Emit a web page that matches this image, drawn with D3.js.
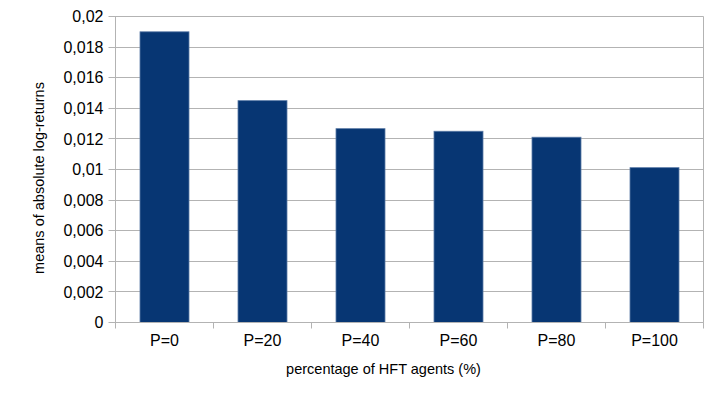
<!DOCTYPE html>
<html><head><meta charset="utf-8">
<script src="https://cdn.jsdelivr.net/npm/d3@7"></script>
<style>body{margin:0;background:#fff}svg{display:block}text{font-family:"Liberation Sans",Arial,sans-serif;fill:#000}</style>
</head><body><svg id="c" width="712" height="400"></svg>
<script>
const categories = ["P=0","P=20","P=40","P=60","P=80","P=100"];
const values = [0.0190, 0.0145, 0.01267, 0.0125, 0.01211, 0.01012];
const yTicks = [0,0.002,0.004,0.006,0.008,0.01,0.012,0.014,0.016,0.018,0.02];
const yTickLabels = ["0","0,002","0,004","0,006","0,008","0,01","0,012","0,014","0,016","0,018","0,02"];
const xTitle = "percentage of HFT agents (%)";
const yTitle = "means of absolute log-returns";

const svg = d3.select("#c");
const L=115.5, R=703.5, T=16.5, B=322.5;
const x = d3.scaleBand().domain(categories).range([L,R]).paddingInner(0.5).paddingOuter(0.25);
const y = d3.scaleLinear().domain([0,0.02]).range([B,T]);

// gridlines
svg.append("g").selectAll("line").data(yTicks).join("line")
  .attr("x1",L-7).attr("x2",R).attr("y1",d=>Math.round(y(d)-0.5)+0.5).attr("y2",d=>Math.round(y(d)-0.5)+0.5)
  .attr("stroke","#b3b3b3").attr("stroke-width",1);
// right border
svg.append("line").attr("x1",R).attr("x2",R).attr("y1",T).attr("y2",B).attr("stroke","#b3b3b3");

// bars
svg.append("g").selectAll("rect").data(values).join("rect")
  .attr("x",(d,i)=>x(categories[i])).attr("width",x.bandwidth())
  .attr("y",d=>y(d)).attr("height",d=>B-y(d))
  .attr("fill","#073673").attr("stroke","#5a7aa6").attr("stroke-width",0.8);

// y axis line
svg.append("line").attr("x1",L).attr("x2",L).attr("y1",T).attr("y2",B).attr("stroke","#b3b3b3");
// x axis line
svg.append("line").attr("x1",L).attr("x2",R).attr("y1",B).attr("y2",B).attr("stroke","#b3b3b3");
// x ticks at category boundaries
const step = (R-L)/categories.length;
svg.append("g").selectAll("line").data(d3.range(categories.length+1)).join("line")
  .attr("x1",i=>L+i*step).attr("x2",i=>L+i*step)
  .attr("y1",B).attr("y2",B+6).attr("stroke","#b3b3b3");

// y tick labels
svg.append("g").selectAll("text").data(yTicks).join("text")
  .attr("x",L-12).attr("y",d=>y(d)).attr("dy","0.35em").attr("text-anchor","end")
  .attr("font-size",16).text((d,i)=>yTickLabels[i]);
// x tick labels
svg.append("g").selectAll("text").data(categories).join("text")
  .attr("x",d=>x(d)+x.bandwidth()/2).attr("y",346).attr("text-anchor","middle")
  .attr("font-size",16).text(d=>d);
// titles
svg.append("text").attr("x",383.5).attr("y",374).attr("text-anchor","middle").attr("font-size",14.5).text(xTitle);
svg.append("text").attr("transform","translate(44,178) rotate(-90)").attr("text-anchor","middle").attr("font-size",14.5).text(yTitle);
</script></body></html>
